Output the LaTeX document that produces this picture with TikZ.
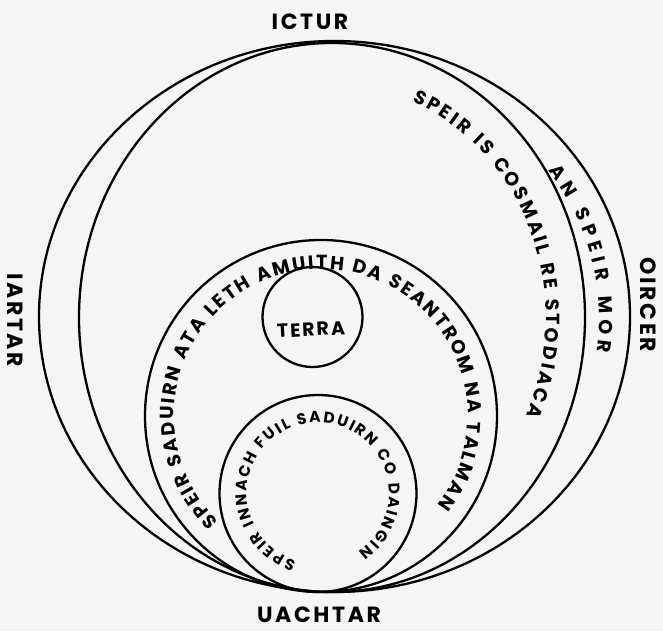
\documentclass[tikz,border=0pt]{standalone}
\usepackage{fontspec}
\newfontfamily\lab{Poppins}
\usetikzlibrary{decorations.text}
\begin{document}
\begin{tikzpicture}[x=1pt,y=1pt,
  ring/.style={line width=2.3pt, draw=black},
  lbl/.style={font=\lab\bfseries\fontsize{22}{22}\selectfont\addfontfeatures{LetterSpace=12}, text=black, inner sep=0pt},
  arctext/.style={decorate, decoration={text along path, text align=fit to path,
     text={|\lab\bfseries\fontsize{19}{19}\selectfont|#1}}},
  smalltext/.style={decorate, decoration={text along path, text align=fit to path,
     text={|\lab\bfseries\fontsize{15.5}{15.5}\selectfont|#1}}}
]
\useasboundingbox (0,0) rectangle (663,631);
\fill[black!4] (0,0) rectangle (663,631);

% spheres
\draw[ring] (334.5,314.5) ellipse [x radius=295.5pt, y radius=275.5pt];
\draw[ring] (332,313.5) ellipse [x radius=253pt, y radius=274.5pt];
\draw[ring] (321,215) circle [radius=176pt];
\draw[ring] (318,137.5) circle [radius=98.5pt];
\draw[ring] (312.5,314) circle [radius=50pt];

% curved texts
\path[arctext={AN SPEIR MOR}]
  ([shift={(333,314)}]36:266pt and 249pt) arc[start angle=36, end angle=-8, x radius=266pt, y radius=249pt];
\path[arctext={SPEIR IS COSMAIL RE STODIACA}]
  ([shift={(332,313.5)}]68:214pt and 233pt) arc[start angle=68, end angle=-25, x radius=214pt, y radius=233pt];
\path[arctext={SPEIR SADUIRN ATA LETH AMUITH DA SEANTROM NA TALMAN}]
  ([shift={(321,215)}]226:147pt) arc[start angle=226, end angle=-37.5, radius=147pt];
\path[smalltext={SPEIR INNACH FUIL SADUIRN CO DAINGIN}]
  ([shift={(318,137.5)}]252:71pt) arc[start angle=252, end angle=-55, radius=71pt];

% labels
\node[lbl] (ictur) at (310,609) {ICTUR};
\node[lbl] (uachtar) at (319,16) {UACHTAR};
\node[lbl, rotate=-90] (iartar) at (15,311) {IARTAR};
\node[lbl, rotate=-90] (oircer) at (648,326) {OIRCER};
\node[lbl, font=\lab\bfseries\fontsize{19}{19}\selectfont\addfontfeatures{LetterSpace=10}, rotate=3] (terra) at (311,301.5) {TERRA};
\end{tikzpicture}
\end{document}
